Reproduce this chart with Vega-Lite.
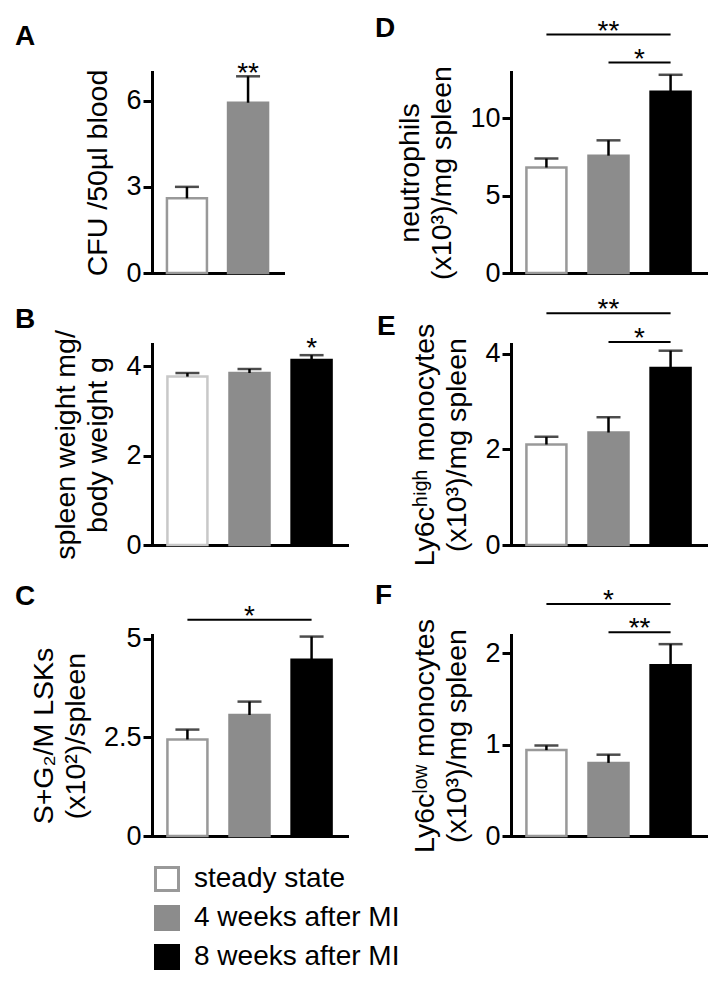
{
  "$schema": "https://vega.github.io/schema/vega-lite/v6.json",
  "usermeta": {"embedOptions": {"actions": false}},
  "background": "white",
  "padding": {"left": 15, "top": 0, "right": 5, "bottom": 5},
  "autosize": {"type": "pad"},
  "config": {
    "font": "Liberation Sans",
    "view": {"stroke": null},
    "axis": {
      "grid": false,
      "domainColor": "black",
      "domainWidth": 3,
      "domainCap": "square",
      "tickColor": "black",
      "tickWidth": 3,
      "tickSize": 9,
      "labelFont": "Liberation Sans",
      "labelFontSize": 27,
      "labelColor": "black",
      "labelPadding": 2,
      "titleFont": "Liberation Sans",
      "titleFontSize": 28.5,
      "titleFontWeight": "normal",
      "titleColor": "black",
      "titlePadding": 13,
      "titleLineHeight": 32
    },
    "title": {"font": "Liberation Sans", "fontSize": 28, "fontWeight": "bold", "color": "black", "anchor": "start", "frame": "group", "orient": "top", "offset": 0, "baseline": "alphabetic"}
  },
  "datasets": {
    "bars": [
      {"panel": "A", "group": "steady state", "idx": 1, "mean": 2.6, "upper": 3.0},
      {"panel": "A", "group": "4 weeks after MI", "idx": 2, "mean": 5.93, "upper": 6.85},
      {"panel": "B", "group": "steady state", "idx": 1, "mean": 3.77, "upper": 3.85},
      {"panel": "B", "group": "4 weeks after MI", "idx": 2, "mean": 3.85, "upper": 3.94},
      {"panel": "B", "group": "8 weeks after MI", "idx": 3, "mean": 4.14, "upper": 4.25},
      {"panel": "C", "group": "steady state", "idx": 1, "mean": 2.45, "upper": 2.7},
      {"panel": "C", "group": "4 weeks after MI", "idx": 2, "mean": 3.07, "upper": 3.41},
      {"panel": "C", "group": "8 weeks after MI", "idx": 3, "mean": 4.47, "upper": 5.06},
      {"panel": "D", "group": "steady state", "idx": 1, "mean": 6.82, "upper": 7.4},
      {"panel": "D", "group": "4 weeks after MI", "idx": 2, "mean": 7.59, "upper": 8.58},
      {"panel": "D", "group": "8 weeks after MI", "idx": 3, "mean": 11.72, "upper": 12.82},
      {"panel": "E", "group": "steady state", "idx": 1, "mean": 2.1, "upper": 2.26},
      {"panel": "E", "group": "4 weeks after MI", "idx": 2, "mean": 2.35, "upper": 2.67},
      {"panel": "E", "group": "8 weeks after MI", "idx": 3, "mean": 3.7, "upper": 4.06},
      {"panel": "F", "group": "steady state", "idx": 1, "mean": 0.94, "upper": 0.99},
      {"panel": "F", "group": "4 weeks after MI", "idx": 2, "mean": 0.8, "upper": 0.89},
      {"panel": "F", "group": "8 weeks after MI", "idx": 3, "mean": 1.87, "upper": 2.1}
    ],
    "brackets": [
      {"panel": "C", "from": 1, "to": 3, "y": 5.49},
      {"panel": "D", "from": 1, "to": 3, "y": 15.42},
      {"panel": "D", "from": 2, "to": 3, "y": 13.61},
      {"panel": "E", "from": 1, "to": 3, "y": 4.84},
      {"panel": "E", "from": 2, "to": 3, "y": 4.24},
      {"panel": "F", "from": 1, "to": 3, "y": 2.54},
      {"panel": "F", "from": 2, "to": 3, "y": 2.23}
    ],
    "stars": [
      {"panel": "A", "at": 2, "y": 6.84, "label": "**"},
      {"panel": "B", "at": 3, "y": 4.31, "label": "*"},
      {"panel": "C", "at": 2, "y": 5.49, "label": "*"},
      {"panel": "D", "at": 2, "y": 15.42, "label": "**"},
      {"panel": "D", "at": 2.5, "y": 13.61, "label": "*"},
      {"panel": "E", "at": 2, "y": 4.84, "label": "**"},
      {"panel": "E", "at": 2.5, "y": 4.24, "label": "*"},
      {"panel": "F", "at": 2, "y": 2.54, "label": "*"},
      {"panel": "F", "at": 2.5, "y": 2.23, "label": "**"}
    ]
  },
  "columns": 2,
  "bounds": "flush",
  "align": "each",
  "spacing": {"row": 0, "column": 164},
  "resolve": {"scale": {"fill": "independent", "stroke": "independent"}, "legend": {"fill": "independent", "stroke": "independent"}},
  "concat": [
    {
      "width": 131, "height": 273,
      "title": {"text": "A", "dx": -137, "dy": 55},
      "layer": [
        {"data": {"name": "bars"}, "transform": [{"filter": "datum.panel === 'A'"}],
         "mark": {"type": "bar", "size": 40, "strokeWidth": 2.5, "orient": "vertical"},
         "encoding": {
           "x": {"field": "idx", "type": "quantitative", "scale": {"domain": [0.51, 2.49], "nice": false, "zero": false}, "axis": {"ticks": false, "labels": false, "title": null}},
           "y": {"field": "mean", "type": "quantitative", "stack": null, "scale": {"domain": [0, 7], "range": [273, 72], "nice": false, "zero": false}, "axis": {"values": [0, 3, 6], "format": "~g", "title": "CFU /50µl blood"}},
           "fill": {"field": "group", "type": "nominal", "scale": {"domain": ["steady state", "4 weeks after MI", "8 weeks after MI"], "range": ["#ffffff", "#8c8c8c", "#000000"]}, "legend": null},
           "stroke": {"field": "group", "type": "nominal", "scale": {"domain": ["steady state", "4 weeks after MI", "8 weeks after MI"], "range": ["#999999", "#8c8c8c", "#000000"]}, "legend": null}
         }},
        {"data": {"name": "bars"}, "transform": [{"filter": "datum.panel === 'A'"}],
         "mark": {"type": "rule", "strokeWidth": 2.5, "color": "black"},
         "encoding": {"x": {"field": "idx", "type": "quantitative"}, "y": {"field": "mean", "type": "quantitative"}, "y2": {"field": "upper"}}},
        {"data": {"name": "bars"}, "transform": [{"filter": "datum.panel === 'A'"}],
         "mark": {"type": "tick", "orient": "horizontal", "size": 24, "thickness": 2.5, "color": "black"},
         "encoding": {"x": {"field": "idx", "type": "quantitative"}, "y": {"field": "upper", "type": "quantitative"}}},
        {"data": {"name": "stars"}, "transform": [{"filter": "datum.panel === 'A'"}],
         "mark": {"type": "text", "fontSize": 28, "font": "Liberation Sans", "baseline": "alphabetic", "align": "center", "dy": 5, "color": "black"},
         "encoding": {"x": {"field": "at", "type": "quantitative"}, "y": {"field": "y", "type": "quantitative"}, "text": {"field": "label"}}}
      ]
    },
    {
      "width": 195, "height": 273,
      "title": {"text": "D", "dx": -136, "dy": 47},
      "layer": [
        {"data": {"name": "bars"}, "transform": [{"filter": "datum.panel === 'D'"}],
         "mark": {"type": "bar", "size": 40, "strokeWidth": 2.5, "orient": "vertical"},
         "encoding": {
           "x": {"field": "idx", "type": "quantitative", "scale": {"domain": [0.51, 3.49], "nice": false, "zero": false}, "axis": {"ticks": false, "labels": false, "title": null}},
           "y": {"field": "mean", "type": "quantitative", "stack": null, "scale": {"domain": [0, 13], "range": [273, 72], "nice": false, "zero": false}, "axis": {"values": [0, 5, 10], "format": "~g", "title": ["neutrophils", "(x10³)/mg spleen"]}},
           "fill": {"field": "group", "type": "nominal", "scale": {"domain": ["steady state", "4 weeks after MI", "8 weeks after MI"], "range": ["#ffffff", "#8c8c8c", "#000000"]}, "legend": null},
           "stroke": {"field": "group", "type": "nominal", "scale": {"domain": ["steady state", "4 weeks after MI", "8 weeks after MI"], "range": ["#999999", "#8c8c8c", "#000000"]}, "legend": null}
         }},
        {"data": {"name": "bars"}, "transform": [{"filter": "datum.panel === 'D'"}],
         "mark": {"type": "rule", "strokeWidth": 2.5, "color": "black"},
         "encoding": {"x": {"field": "idx", "type": "quantitative"}, "y": {"field": "mean", "type": "quantitative"}, "y2": {"field": "upper"}}},
        {"data": {"name": "bars"}, "transform": [{"filter": "datum.panel === 'D'"}],
         "mark": {"type": "tick", "orient": "horizontal", "size": 24, "thickness": 2.5, "color": "black"},
         "encoding": {"x": {"field": "idx", "type": "quantitative"}, "y": {"field": "upper", "type": "quantitative"}}},
        {"data": {"name": "brackets"}, "transform": [{"filter": "datum.panel === 'D'"}],
         "mark": {"type": "rule", "strokeWidth": 2, "color": "black"},
         "encoding": {"x": {"field": "from", "type": "quantitative"}, "x2": {"field": "to"}, "y": {"field": "y", "type": "quantitative"}}},
        {"data": {"name": "stars"}, "transform": [{"filter": "datum.panel === 'D'"}],
         "mark": {"type": "text", "fontSize": 28, "font": "Liberation Sans", "baseline": "alphabetic", "align": "center", "dy": 5, "color": "black"},
         "encoding": {"x": {"field": "at", "type": "quantitative"}, "y": {"field": "y", "type": "quantitative"}, "text": {"field": "label"}}}
      ]
    },
    {
      "width": 195, "height": 272,
      "title": {"text": "B", "dx": -137, "dy": 65},
      "layer": [
        {"data": {"name": "bars"}, "transform": [{"filter": "datum.panel === 'B'"}],
         "mark": {"type": "bar", "size": 40, "strokeWidth": 2.5, "orient": "vertical"},
         "encoding": {
           "x": {"field": "idx", "type": "quantitative", "scale": {"domain": [0.51, 3.49], "nice": false, "zero": false}, "axis": {"ticks": false, "labels": false, "title": null}},
           "y": {"field": "mean", "type": "quantitative", "stack": null, "scale": {"domain": [0, 4.5], "range": [272, 71], "nice": false, "zero": false}, "axis": {"values": [0, 2, 4], "format": "~g", "title": ["spleen weight mg/", "body weight g"]}},
           "fill": {"field": "group", "type": "nominal", "scale": {"domain": ["steady state", "4 weeks after MI", "8 weeks after MI"], "range": ["#ffffff", "#8c8c8c", "#000000"]}, "legend": null},
           "stroke": {"field": "group", "type": "nominal", "scale": {"domain": ["steady state", "4 weeks after MI", "8 weeks after MI"], "range": ["#c8c8c8", "#8c8c8c", "#000000"]}, "legend": null}
         }},
        {"data": {"name": "bars"}, "transform": [{"filter": "datum.panel === 'B'"}],
         "mark": {"type": "rule", "strokeWidth": 2.5, "color": "black"},
         "encoding": {"x": {"field": "idx", "type": "quantitative"}, "y": {"field": "mean", "type": "quantitative"}, "y2": {"field": "upper"}}},
        {"data": {"name": "bars"}, "transform": [{"filter": "datum.panel === 'B'"}],
         "mark": {"type": "tick", "orient": "horizontal", "size": 24, "thickness": 2.5, "color": "black"},
         "encoding": {"x": {"field": "idx", "type": "quantitative"}, "y": {"field": "upper", "type": "quantitative"}}},
        {"data": {"name": "stars"}, "transform": [{"filter": "datum.panel === 'B'"}],
         "mark": {"type": "text", "fontSize": 28, "font": "Liberation Sans", "baseline": "alphabetic", "align": "center", "dy": 5, "color": "black"},
         "encoding": {"x": {"field": "at", "type": "quantitative"}, "y": {"field": "y", "type": "quantitative"}, "text": {"field": "label"}}}
      ]
    },
    {
      "width": 195, "height": 272,
      "title": {"text": "E", "dx": -134, "dy": 72},
      "layer": [
        {"data": {"name": "bars"}, "transform": [{"filter": "datum.panel === 'E'"}],
         "mark": {"type": "bar", "size": 40, "strokeWidth": 2.5, "orient": "vertical"},
         "encoding": {
           "x": {"field": "idx", "type": "quantitative", "scale": {"domain": [0.51, 3.49], "nice": false, "zero": false}, "axis": {"ticks": false, "labels": false, "title": null}},
           "y": {"field": "mean", "type": "quantitative", "stack": null, "scale": {"domain": [0, 4.2], "range": [272, 71], "nice": false, "zero": false}, "axis": {"values": [0, 2, 4], "format": "~g", "title": ["Ly6cʰⁱᵍʰ monocytes", "(x10³)/mg spleen"]}},
           "fill": {"field": "group", "type": "nominal", "scale": {"domain": ["steady state", "4 weeks after MI", "8 weeks after MI"], "range": ["#ffffff", "#8c8c8c", "#000000"]}, "legend": null},
           "stroke": {"field": "group", "type": "nominal", "scale": {"domain": ["steady state", "4 weeks after MI", "8 weeks after MI"], "range": ["#999999", "#8c8c8c", "#000000"]}, "legend": null}
         }},
        {"data": {"name": "bars"}, "transform": [{"filter": "datum.panel === 'E'"}],
         "mark": {"type": "rule", "strokeWidth": 2.5, "color": "black"},
         "encoding": {"x": {"field": "idx", "type": "quantitative"}, "y": {"field": "mean", "type": "quantitative"}, "y2": {"field": "upper"}}},
        {"data": {"name": "bars"}, "transform": [{"filter": "datum.panel === 'E'"}],
         "mark": {"type": "tick", "orient": "horizontal", "size": 24, "thickness": 2.5, "color": "black"},
         "encoding": {"x": {"field": "idx", "type": "quantitative"}, "y": {"field": "upper", "type": "quantitative"}}},
        {"data": {"name": "brackets"}, "transform": [{"filter": "datum.panel === 'E'"}],
         "mark": {"type": "rule", "strokeWidth": 2, "color": "black"},
         "encoding": {"x": {"field": "from", "type": "quantitative"}, "x2": {"field": "to"}, "y": {"field": "y", "type": "quantitative"}}},
        {"data": {"name": "stars"}, "transform": [{"filter": "datum.panel === 'E'"}],
         "mark": {"type": "text", "fontSize": 28, "font": "Liberation Sans", "baseline": "alphabetic", "align": "center", "dy": 5, "color": "black"},
         "encoding": {"x": {"field": "at", "type": "quantitative"}, "y": {"field": "y", "type": "quantitative"}, "text": {"field": "label"}}}
      ]
    },
    {
      "width": 195, "height": 291,
      "title": {"text": "C", "dx": -137, "dy": 70},
      "layer": [
        {"data": {"name": "bars"}, "transform": [{"filter": "datum.panel === 'C'"}],
         "mark": {"type": "bar", "size": 40, "strokeWidth": 2.5, "orient": "vertical"},
         "encoding": {
           "x": {"field": "idx", "type": "quantitative", "scale": {"domain": [0.51, 3.49], "nice": false, "zero": false}, "axis": {"ticks": false, "labels": false, "title": null}},
           "y": {"field": "mean", "type": "quantitative", "stack": null, "scale": {"domain": [0, 5.1], "range": [291, 90], "nice": false, "zero": false}, "axis": {"values": [0, 2.5, 5], "format": "~g", "title": ["S+G₂/M LSKs", "(x10²)/spleen"]}},
           "fill": {"field": "group", "type": "nominal", "scale": {"domain": ["steady state", "4 weeks after MI", "8 weeks after MI"], "range": ["#ffffff", "#8c8c8c", "#000000"]},
             "legend": {"orient": "none", "legendX": 1, "legendY": 320, "title": null, "symbolType": "square", "symbolSize": 529, "symbolStrokeWidth": 3, "labelFont": "Liberation Sans", "labelFontSize": 28, "labelColor": "black", "labelOffset": 13, "rowPadding": 3, "padding": 0, "labelLimit": 400}},
           "stroke": {"field": "group", "type": "nominal", "scale": {"domain": ["steady state", "4 weeks after MI", "8 weeks after MI"], "range": ["#999999", "#8c8c8c", "#000000"]},
             "legend": {"orient": "none", "legendX": 1, "legendY": 320, "title": null, "symbolType": "square", "symbolSize": 529, "symbolStrokeWidth": 3, "labelFont": "Liberation Sans", "labelFontSize": 28, "labelColor": "black", "labelOffset": 13, "rowPadding": 3, "padding": 0, "labelLimit": 400}}
         }},
        {"data": {"name": "bars"}, "transform": [{"filter": "datum.panel === 'C'"}],
         "mark": {"type": "rule", "strokeWidth": 2.5, "color": "black"},
         "encoding": {"x": {"field": "idx", "type": "quantitative"}, "y": {"field": "mean", "type": "quantitative"}, "y2": {"field": "upper"}}},
        {"data": {"name": "bars"}, "transform": [{"filter": "datum.panel === 'C'"}],
         "mark": {"type": "tick", "orient": "horizontal", "size": 24, "thickness": 2.5, "color": "black"},
         "encoding": {"x": {"field": "idx", "type": "quantitative"}, "y": {"field": "upper", "type": "quantitative"}}},
        {"data": {"name": "brackets"}, "transform": [{"filter": "datum.panel === 'C'"}],
         "mark": {"type": "rule", "strokeWidth": 2, "color": "black"},
         "encoding": {"x": {"field": "from", "type": "quantitative"}, "x2": {"field": "to"}, "y": {"field": "y", "type": "quantitative"}}},
        {"data": {"name": "stars"}, "transform": [{"filter": "datum.panel === 'C'"}],
         "mark": {"type": "text", "fontSize": 28, "font": "Liberation Sans", "baseline": "alphabetic", "align": "center", "dy": 5, "color": "black"},
         "encoding": {"x": {"field": "at", "type": "quantitative"}, "y": {"field": "y", "type": "quantitative"}, "text": {"field": "label"}}}
      ]
    },
    {
      "width": 195, "height": 291,
      "title": {"text": "F", "dx": -136, "dy": 69},
      "layer": [
        {"data": {"name": "bars"}, "transform": [{"filter": "datum.panel === 'F'"}],
         "mark": {"type": "bar", "size": 40, "strokeWidth": 2.5, "orient": "vertical"},
         "encoding": {
           "x": {"field": "idx", "type": "quantitative", "scale": {"domain": [0.51, 3.49], "nice": false, "zero": false}, "axis": {"ticks": false, "labels": false, "title": null}},
           "y": {"field": "mean", "type": "quantitative", "stack": null, "scale": {"domain": [0, 2.2], "range": [291, 90], "nice": false, "zero": false}, "axis": {"values": [0, 1, 2], "format": "~g", "title": ["Ly6cˡᵒʷ monocytes", "(x10³)/mg spleen"]}},
           "fill": {"field": "group", "type": "nominal", "scale": {"domain": ["steady state", "4 weeks after MI", "8 weeks after MI"], "range": ["#ffffff", "#8c8c8c", "#000000"]}, "legend": null},
           "stroke": {"field": "group", "type": "nominal", "scale": {"domain": ["steady state", "4 weeks after MI", "8 weeks after MI"], "range": ["#999999", "#8c8c8c", "#000000"]}, "legend": null}
         }},
        {"data": {"name": "bars"}, "transform": [{"filter": "datum.panel === 'F'"}],
         "mark": {"type": "rule", "strokeWidth": 2.5, "color": "black"},
         "encoding": {"x": {"field": "idx", "type": "quantitative"}, "y": {"field": "mean", "type": "quantitative"}, "y2": {"field": "upper"}}},
        {"data": {"name": "bars"}, "transform": [{"filter": "datum.panel === 'F'"}],
         "mark": {"type": "tick", "orient": "horizontal", "size": 24, "thickness": 2.5, "color": "black"},
         "encoding": {"x": {"field": "idx", "type": "quantitative"}, "y": {"field": "upper", "type": "quantitative"}}},
        {"data": {"name": "brackets"}, "transform": [{"filter": "datum.panel === 'F'"}],
         "mark": {"type": "rule", "strokeWidth": 2, "color": "black"},
         "encoding": {"x": {"field": "from", "type": "quantitative"}, "x2": {"field": "to"}, "y": {"field": "y", "type": "quantitative"}}},
        {"data": {"name": "stars"}, "transform": [{"filter": "datum.panel === 'F'"}],
         "mark": {"type": "text", "fontSize": 28, "font": "Liberation Sans", "baseline": "alphabetic", "align": "center", "dy": 5, "color": "black"},
         "encoding": {"x": {"field": "at", "type": "quantitative"}, "y": {"field": "y", "type": "quantitative"}, "text": {"field": "label"}}}
      ]
    }
  ]
}
